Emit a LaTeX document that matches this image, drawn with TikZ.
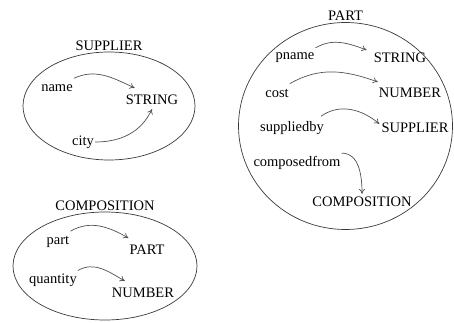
\documentclass[tikz,border=0pt]{standalone}
\usepackage{fontspec}
\setmainfont{Liberation Serif}
\usetikzlibrary{positioning, arrows.meta, shapes.geometric}
\definecolor{schemaline}{HTML}{3A3A3A}
\definecolor{schemaarrow}{HTML}{505050}

\begin{document}
\begin{tikzpicture}[
        x=1pt, y=1pt,
        every node/.style={font=\fontsize{14.5}{16}\selectfont, inner sep=1pt},
        entity/.style={
          draw=schemaline, line width=0.7pt,
          ellipse, inner sep=0pt,
        },
        title/.style={
          above=0pt of #1,
        },
        attr/.style={
          inner xsep=1pt, inner ysep=1pt,
        },
        typ/.style={
          inner xsep=1pt, inner ysep=1pt,
        },
        link/.style={
          -{To[length=5pt, width=6pt]}, draw=schemaarrow, line width=0.7pt,
        },
      ]
      \useasboundingbox (0,0) rectangle (454,-323);

      % the three entities
      \node[entity, minimum width=172pt, minimum height=108pt] (sup) at (109,-106) {};
      \node[entity, minimum width=184pt, minimum height=108pt] (comp) at (105,-266) {};
      \node[entity, minimum width=214pt, minimum height=207pt] (part) at (345.5,-126) {};

      \node[title=sup.north] (suptitle) {SUPPLIER};
      \node[title=comp.north] (comptitle) {COMPOSITION};
      \node[title=part.north] (parttitle) {PART};

      % SUPPLIER
      \node[attr] (name) at (57,-88) {name};
      \node[attr] (city) at (83,-142) {city};
      \node[typ] (supstring) at (152,-100) {STRING};
      \draw[link] ([yshift=5pt]name.north east) to[out=25, in=155] ([xshift=10pt, yshift=6pt]supstring.north west);
      \draw[link] (city.east) to[out=0, in=-115] ([yshift=-3pt]supstring.south);

      % COMPOSITION
      \node[attr] (cpart) at (58,-242) {part};
      \node[attr] (quantity) at (53,-280) {quantity};
      \node[typ] (comppart) at (147,-250) {PART};
      \node[typ] (compnumber) at (143,-293) {NUMBER};
      \draw[link] ([yshift=4pt]cpart.north east) to[out=30, in=150] ([yshift=6pt]comppart.north west);
      \draw[link] ([yshift=2pt]quantity.north east) to[out=30, in=150] ([xshift=14pt, yshift=6pt]compnumber.north west);

      % PART
      \node[attr] (pname) at (295,-58) {pname};
      \node[attr] (cost) at (277,-93) {cost};
      \node[attr] (suppliedby) at (292,-128) {suppliedby};
      \node[attr] (composedfrom) at (297,-163) {composedfrom};
      \node[typ] (pstring) at (400,-58) {STRING};
      \node[typ] (pnumber) at (410,-93) {NUMBER};
      \node[typ] (psupplier) at (415,-128) {SUPPLIER};
      \node[typ] (pcomposition) at (362,-202) {COMPOSITION};
      \draw[link] ([yshift=4pt]pname.north east) to[out=30, in=160] ([xshift=-6pt, yshift=2pt]pstring.north west);
      \draw[link] ([yshift=4pt]cost.north east) to[out=30, in=160] ([yshift=5pt]pnumber.north west);
      \draw[link] ([xshift=-4pt, yshift=4pt]suppliedby.north east) to[out=35, in=140] ([xshift=-1pt, yshift=-2pt]psupplier.north west);
      \draw[link] ([yshift=2pt]composedfrom.north east) to[out=0, in=90] ([yshift=2pt]pcomposition.north);
    \end{tikzpicture}
\end{document}
